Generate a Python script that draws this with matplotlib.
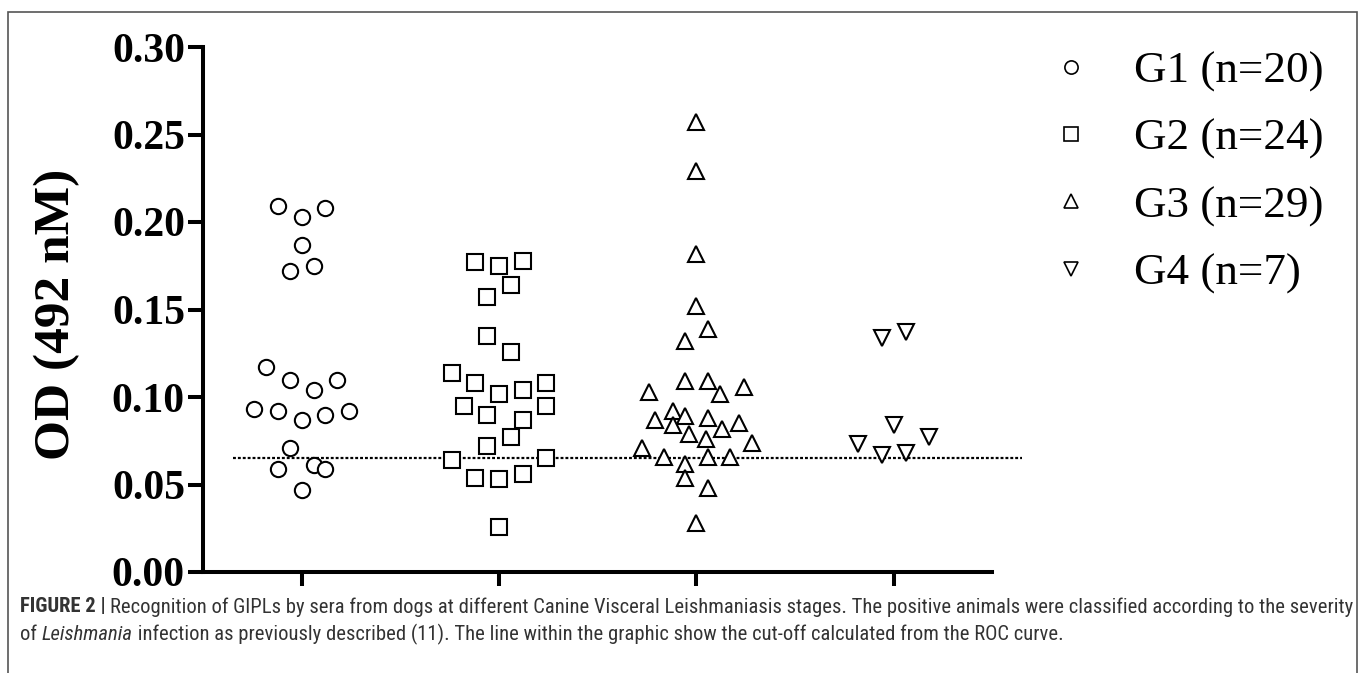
import matplotlib
matplotlib.use("Agg")
import matplotlib.pyplot as plt
from matplotlib.lines import Line2D
from matplotlib.patches import Rectangle
from matplotlib import font_manager
from matplotlib.transforms import IdentityTransform
import numpy as np

# ---------------- data ----------------
groups = ["G1 (n=20)", "G2 (n=24)", "G3 (n=29)", "G4 (n=7)"]

g1_od = [0.209, 0.203, 0.208, 0.187, 0.172, 0.175, 0.117, 0.110, 0.104, 0.110,
         0.093, 0.092, 0.087, 0.090, 0.092, 0.071, 0.059, 0.061, 0.059, 0.047]
g1_slot = [-2, 0, 2, 0, -1, 1, -3, -1, 1, 3, -4, -2, 0, 2, 4, -1, -2, 1, 2, 0]

g2_od = [0.177, 0.175, 0.178, 0.164, 0.157, 0.135, 0.126, 0.114, 0.108, 0.102,
         0.104, 0.108, 0.095, 0.090, 0.095, 0.087, 0.077, 0.072, 0.064, 0.065,
         0.054, 0.053, 0.056, 0.026]
g2_slot = [-2, 0, 2, 1, -1, -1, 1, -4, -2, 0, 2, 4, -3, -1, 4, 2, 1, -1, -4, 4,
           -2, 0, 2, 0]

g3_od = [0.257, 0.229, 0.182, 0.152, 0.139, 0.132, 0.109, 0.109, 0.103, 0.102,
         0.106, 0.092, 0.087, 0.089, 0.088, 0.085, 0.084, 0.082, 0.079, 0.076,
         0.074, 0.071, 0.066, 0.062, 0.066, 0.066, 0.054, 0.048, 0.028]
g3_slot = [0, 0, 0, 0, 1, -1, -1, 1, -4, 2, 4, -2, -3.5, -1, 1, 3.6, -2, 2.2,
           -0.6, 0.8, 4.7, -4.6, -2.7, -1, 1, 2.8, -1, 1, 0]

g4_od = [0.134, 0.137, 0.084, 0.073, 0.077, 0.067, 0.068]
g4_slot = [-1, 1, 0, -3, 3, -1, 1]

cutoff = 0.065

yticks = [0.00, 0.05, 0.10, 0.15, 0.20, 0.25, 0.30]
ytick_labels = ["0.00", "0.05", "0.10", "0.15", "0.20", "0.25", "0.30"]
ylabel = "OD (492 nM)"

caption_line1 = [("FIGURE 2 | ", "bold", "normal"),
                 ("Recognition of GIPLs by sera from dogs at different Canine Visceral "
                  "Leishmaniasis stages. The positive animals were classified according "
                  "to the severity", "normal", "normal")]
caption_line2 = [("of ", "normal", "normal"),
                 ("Leishmania", "normal", "italic"),
                 (" infection as previously described (11). The line within the graphic "
                  "show the cut-off calculated from the ROC curve.", "normal", "normal")]

# ---------------- style ----------------
W, H = 1362, 673
serif = "Liberation Serif"
markers = ["o", "s", "^", "v"]
slot_w = 0.06

avail = {f.name for f in font_manager.fontManager.ttflist}
cap_family = "Liberation Sans"
for cand in ["Roboto Condensed", "Liberation Sans Narrow", "DejaVu Sans Condensed",
             "Open Sans Condensed", "Liberation Sans"]:
    if cand in avail:
        cap_family = cand
        break

fig = plt.figure(figsize=(W / 100, H / 100), dpi=100)
ax_left, ax_right, ax_top, ax_bot = 203, 992.5, 47, 572
ax = fig.add_axes([ax_left / W, 1 - ax_bot / H, (ax_right - ax_left) / W,
                   (ax_bot - ax_top) / H])

all_od = [g1_od, g2_od, g3_od, g4_od]
all_slot = [g1_slot, g2_slot, g3_slot, g4_slot]
for i, (od, sl) in enumerate(zip(all_od, all_slot)):
    x = (i + 1) + np.asarray(sl, dtype=float) * slot_w
    ax.plot(x, od, linestyle="none", marker=markers[i], ms=11, mfc="white",
            mec="black", mew=1.5, clip_on=False, zorder=3)

ax.plot([0.65, 4.65], [cutoff, cutoff], color="black", lw=1.6,
        linestyle=(0, (1.3, 0.9)), clip_on=False, zorder=2)

ax.set_xlim(0.5, 4.5)
ax.set_ylim(0, 0.30)
ax.set_xticks([1, 2, 3, 4])
ax.set_xticklabels([])
ax.set_yticks(yticks)
ax.set_yticklabels(ytick_labels, fontsize=30, fontweight="bold", family=serif)
for s in ["top", "right"]:
    ax.spines[s].set_visible(False)
for s in ["left", "bottom"]:
    ax.spines[s].set_linewidth(2.9)
ax.tick_params(axis="y", length=11, width=2.9, pad=2)
ax.tick_params(axis="x", length=10, width=2.9)

fig.text(57 / W, 1 - 314 / H, ylabel, rotation=90, ha="center", va="center",
         fontsize=37, fontweight="bold", family=serif)

handles = [Line2D([], [], linestyle="none", marker=m, ms=9.5, mfc="white",
                  mec="black", mew=1.2) for m in markers]
ax.legend(handles, groups, loc="upper left", bbox_to_anchor=(1048 / W, 1 - 51 / H),
          bbox_transform=fig.transFigure, frameon=False, borderpad=0,
          borderaxespad=0, handlelength=1.0, handletextpad=0.9, labelspacing=0.58,
          prop={"family": serif, "size": 32.5})

# frame around figure
fig.patches.append(Rectangle((8 / W, -0.05), (1357 - 8) / W, 1.05 - 12 / H,
                             transform=fig.transFigure, fill=False,
                             edgecolor="#555555", lw=1.2))

# caption
renderer = fig.canvas.get_renderer()
cap_color = "#333333"


def draw_segments(segs, x0, y, size, draw=True):
    x = x0
    created = []
    for txt, wt, st in segs:
        t = fig.text(x, y, txt, transform=IdentityTransform(), ha="left",
                     va="center", fontsize=size, fontweight=wt, fontstyle=st,
                     family=cap_family, color=cap_color)
        x += t.get_window_extent(renderer).width
        created.append(t)
    if not draw:
        for t in created:
            t.remove()
    return x - x0


base = 12.0
wid = draw_segments(caption_line1, 0, 0, base, draw=False)
cap_size = min(base * (1327 / wid), 17.0)
draw_segments(caption_line1, 20, H - 607, cap_size)
draw_segments(caption_line2, 20, H - 634, cap_size)

fig.savefig("out.png", dpi=100)
